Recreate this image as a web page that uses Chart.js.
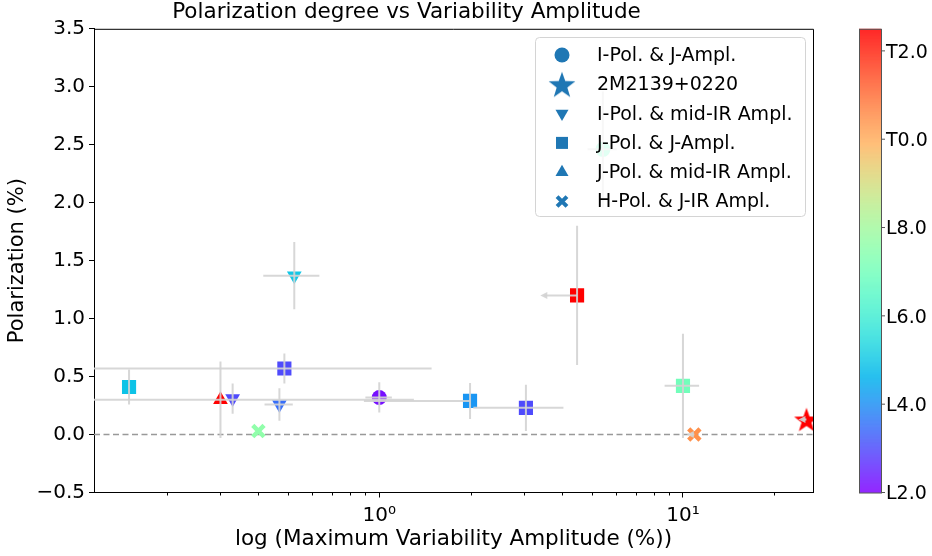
<!DOCTYPE html>
<html>
<head>
<meta charset="utf-8">
<script src="https://cdn.jsdelivr.net/npm/chart.js@4.4.0/dist/chart.umd.min.js"></script>
<style>
  body { margin: 0; background: #fff; }
  #wrap { width: 932px; height: 556px; }
</style>
</head>
<body>
<div id="wrap"><canvas id="graph-pol" width="932" height="556"></canvas></div>
<script>
// Groupes (un par symbole)
const groupLabels = ['I-Pol. & J-Ampl.', '2M2139+0220', 'I-Pol. & mid-IR Ampl.', 'J-Pol. & J-Ampl.', 'J-Pol. & mid-IR Ampl.', 'H-Pol. & J-IR Ampl.'];

// Un objet par colonne
const groupOf      = [0,    0,    1,    2,     2,     2,     3,     3,     3,     3,     3,     3,     4,    5,    5];
const amplitude    = [1.0,  5.45, 25.5, 0.525, 0.469, 0.329, 0.150, 0.487, 1.99,  3.04,  4.48,  10.0,  0.30, 0.40, 10.9];
const polarization = [0.32, 2.46, 0.13, 1.37,  0.26,  0.31,  0.41,  0.57,  0.29,  0.23,  1.20,  0.42,  0.30, 0.03, 0.00];
const spType       = [12.2, 16.8, 22.5, 15.0,  13.5,  13.0,  14.9,  13.0,  14.1,  13.0,  22.5,  17.0,  22.5, 17.6, 20.5];
const ampErrLow    = [0.1,  0.6,  0,    0.11,  0.05,  0,     0,     1.0,   1.1,   1.0,   0,     1.3,   1.0,  0,    0];
const ampErrHigh   = [0.1,  0.6,  0,    0.11,  0.05,  0,     0,     1.0,   0,     1.0,   0,     1.3,   1.0,  0,    0];
const polErr       = [0.13, 0.5,  0,    0.29,  0.14,  0.13,  0.15,  0.13,  0.155, 0.2,   0.6,   0.45,  0.33, 0,    0];
const ampUpperLim  = [null, null, 24.0, null,  null,  null,  null,  null,  null,  null,  3.39,  null,  null, null, 10.3];

// Barre de couleur (type spectral)
const sptMin = 12, sptMax = 22.5;
const cbTicks = [12, 14, 16, 18, 20, 22];
const cbTickLabels = ['L2.0', 'L4.0', 'L6.0', 'L8.0', 'T0.0', 'T2.0'];

// Axes
const xMin = 0.115, xMax = 26.8;
const xMajorTicks = [1, 10];
const xTickLabels = ['10\u2070', '10\u00b9'];
const xMinorTicks = [0.2, 0.3, 0.4, 0.5, 0.6, 0.7, 0.8, 0.9, 2, 3, 4, 5, 6, 7, 8, 9, 20];

Chart.defaults.font.family = 'DejaVu Sans';
Chart.defaults.color = '#000';

// colormap "rainbow" de matplotlib
function rainbow(v) {
  let t = (v - sptMin) / (sptMax - sptMin);
  t = Math.max(0, Math.min(1, t));
  const cl = a => Math.round(255 * Math.max(0, Math.min(1, a)));
  return `rgb(${cl(Math.abs(2 * t - 0.5))},${cl(Math.sin(Math.PI * t))},${cl(Math.cos(Math.PI * t / 2))})`;
}

function starCanvas(color, R) {
  const c = document.createElement('canvas');
  c.width = c.height = Math.ceil(2 * R + 2);
  const g = c.getContext('2d');
  const cx = c.width / 2, cy = c.height / 2, r = R * 0.4;
  g.beginPath();
  for (let k = 0; k < 10; k++) {
    const rr = k % 2 === 0 ? R : r;
    const a = -Math.PI / 2 + k * Math.PI / 5;
    g.lineTo(cx + rr * Math.cos(a), cy + rr * Math.sin(a) + R * 0.1);
  }
  g.closePath();
  g.fillStyle = color;
  g.fill();
  return c;
}

const legendBlue = '#1f77b4';
const groupStyles = [
  { pointStyle: 'circle', radius: 7.5, rotation: 0, borderWidth: 0 },
  { pointStyle: starCanvas(rainbow(22.5), 13), legendStyle: starCanvas(legendBlue, 14), radius: 13, rotation: 0, borderWidth: 0 },
  { pointStyle: 'triangle', radius: 8.5, rotation: 180, borderWidth: 0 },
  { pointStyle: 'rect', radius: 10, rotation: 0, borderWidth: 0 },
  { pointStyle: 'triangle', radius: 8.5, rotation: 0, borderWidth: 0 },
  { pointStyle: 'crossRot', radius: 8, rotation: 0, borderWidth: 4.5 }
];

const datasets = groupLabels.map((lab, g) => {
  const idx = groupOf.map((gg, i) => gg === g ? i : -1).filter(i => i >= 0);
  const st = groupStyles[g];
  const cols = idx.map(i => rainbow(spType[i]));
  return {
    label: lab,
    data: idx.map(i => ({ x: amplitude[i], y: polarization[i] })),
    pointStyle: st.pointStyle,
    pointRadius: st.radius,
    pointRotation: st.rotation,
    pointBackgroundColor: cols,
    pointBorderColor: cols,
    pointBorderWidth: st.borderWidth,
    showLine: false,
    clip: 0
  };
});

const errBarColor = 'rgba(211,211,211,0.9)';

const polPlugin = {
  id: 'polPlugin',
  beforeDatasetsDraw(chart) {
    const { ctx, chartArea: a, scales: { y } } = chart;
    const py = y.getPixelForValue(0);
    ctx.save();
    ctx.strokeStyle = '#999';
    ctx.lineWidth = 1.6;
    ctx.setLineDash([6, 3.5]);
    ctx.beginPath();
    ctx.moveTo(a.left, py);
    ctx.lineTo(a.right, py);
    ctx.stroke();
    ctx.restore();
  },
  afterDatasetsDraw(chart) {
    const { ctx, chartArea: a, scales: { x, y } } = chart;
    ctx.save();
    ctx.beginPath();
    ctx.rect(a.left, a.top, a.right - a.left, a.bottom - a.top);
    ctx.clip();
    ctx.strokeStyle = errBarColor;
    ctx.fillStyle = errBarColor;
    ctx.lineWidth = 2;
    for (let i = 0; i < amplitude.length; i++) {
      const px = x.getPixelForValue(amplitude[i]);
      const py = y.getPixelForValue(polarization[i]);
      if (polErr[i] > 0) {
        ctx.beginPath();
        ctx.moveTo(px, y.getPixelForValue(polarization[i] - polErr[i]));
        ctx.lineTo(px, y.getPixelForValue(polarization[i] + polErr[i]));
        ctx.stroke();
      }
      if (ampErrLow[i] > 0 || ampErrHigh[i] > 0) {
        const lo = amplitude[i] - ampErrLow[i];
        const x0 = lo > 0 ? x.getPixelForValue(lo) : a.left - 5;
        const x1 = x.getPixelForValue(amplitude[i] + ampErrHigh[i]);
        ctx.beginPath();
        ctx.moveTo(x0, py);
        ctx.lineTo(x1, py);
        ctx.stroke();
      }
      if (ampUpperLim[i] !== null) {
        const xl = x.getPixelForValue(ampUpperLim[i]);
        ctx.beginPath();
        ctx.moveTo(px, py);
        ctx.lineTo(xl + 4, py);
        ctx.stroke();
        ctx.beginPath();
        ctx.moveTo(xl, py);
        ctx.lineTo(xl + 7, py - 3.5);
        ctx.lineTo(xl + 7, py + 3.5);
        ctx.closePath();
        ctx.fill();
      }
    }
    ctx.restore();
  },
  afterDraw(chart) {
    const { ctx, chartArea: a, scales: { x } } = chart;
    ctx.save();

    // cadre haut et droit
    ctx.strokeStyle = '#000';
    ctx.lineWidth = 1;
    ctx.beginPath();
    ctx.moveTo(a.left, a.top + 0.5);
    ctx.lineTo(a.right + 0.5, a.top + 0.5);
    ctx.lineTo(a.right + 0.5, a.bottom);
    ctx.stroke();

    // graduations mineures de l'axe log
    ctx.beginPath();
    xMinorTicks.forEach(v => {
      const px = Math.round(x.getPixelForValue(v)) + 0.5;
      ctx.moveTo(px, a.bottom);
      ctx.lineTo(px, a.bottom + 3);
    });
    ctx.stroke();

    // légende
    const lx = 535, ly = 37, lw = 270, lh = 179;
    ctx.beginPath();
    ctx.roundRect(lx + 0.5, ly + 0.5, lw, lh, 4);
    ctx.fillStyle = 'rgba(255,255,255,0.8)';
    ctx.fill();
    ctx.strokeStyle = '#d4d4d4';
    ctx.lineWidth = 1;
    ctx.stroke();
    ctx.font = '19px "DejaVu Sans"';
    ctx.textBaseline = 'middle';
    ctx.textAlign = 'left';
    groupLabels.forEach((lab, g) => {
      const yy = ly + 18 + g * 29.3;
      const st = groupStyles[g];
      ctx.fillStyle = legendBlue;
      ctx.strokeStyle = legendBlue;
      ctx.lineWidth = 4;
      Chart.helpers.drawPoint(ctx, {
        pointStyle: st.legendStyle || st.pointStyle,
        rotation: st.rotation,
        radius: g === 5 ? 7 : (g === 3 ? 8.5 : 7.5),
        borderWidth: g === 5 ? 4 : 0
      }, 562, yy);
      ctx.fillStyle = '#000';
      ctx.fillText(lab, 597, yy + 1);
    });

    // barre de couleur
    const cbL = 859, cbR = 881, cbT = a.top, cbB = a.bottom;
    for (let py = cbT; py < cbB; py++) {
      const v = sptMin + (cbB - py - 0.5) / (cbB - cbT) * (sptMax - sptMin);
      ctx.fillStyle = rainbow(v);
      ctx.fillRect(cbL, py, cbR - cbL, 1);
    }
    ctx.strokeStyle = '#555';
    ctx.lineWidth = 1;
    ctx.strokeRect(cbL + 0.5, cbT + 0.5, cbR - cbL, cbB - cbT);
    ctx.font = '19px "DejaVu Sans"';
    ctx.fillStyle = '#000';
    cbTicks.forEach((v, k) => {
      const py = cbB - (v - sptMin) / (sptMax - sptMin) * (cbB - cbT);
      ctx.beginPath();
      ctx.moveTo(cbR, py);
      ctx.lineTo(cbR + 4, py);
      ctx.stroke();
      ctx.fillText(cbTickLabels[k], cbR + 5, py + 2);
    });
    ctx.restore();
  }
};

new Chart(document.getElementById('graph-pol').getContext('2d'), {
  type: 'scatter',
  data: { datasets: datasets },
  options: {
    responsive: false,
    animation: false,
    events: [],
    layout: { padding: { left: 0, right: 119, top: 0, bottom: 0 } },
    plugins: {
      legend: { display: false },
      tooltip: { enabled: false },
      title: {
        display: true,
        text: 'Polarization degree vs Variability Amplitude',
        font: { size: 21.5, weight: 'normal' },
        color: '#000',
        padding: { top: 0, bottom: 3 }
      }
    },
    scales: {
      x: {
        type: 'logarithmic',
        min: xMin,
        max: xMax,
        afterBuildTicks: scale => { scale.ticks = xMajorTicks.map(v => ({ value: v })); },
        afterFit: scale => { scale.height = 63.5; },
        ticks: {
          font: { size: 20 },
          color: '#000',
          maxRotation: 0,
          padding: 6,
          callback: (v, i) => xTickLabels[i]
        },
        grid: { drawOnChartArea: false, drawTicks: true, tickLength: 5, color: '#000' },
        border: { color: '#000', width: 1 },
        title: {
          display: true,
          text: 'log (Maximum Variability Amplitude (%))',
          font: { size: 21.5 },
          color: '#000',
          padding: { top: 0, bottom: 4 }
        }
      },
      y: {
        min: -0.5,
        max: 3.5,
        afterFit: scale => { scale.width = 94; },
        ticks: {
          stepSize: 0.5,
          font: { size: 20 },
          color: '#000',
          padding: 4,
          callback: v => (v < 0 ? '\u2212' : '') + Math.abs(v).toFixed(1)
        },
        grid: { drawOnChartArea: false, drawTicks: true, tickLength: 5, color: '#000' },
        border: { color: '#000', width: 1 },
        title: {
          display: true,
          text: 'Polarization (%)',
          font: { size: 21 },
          color: '#000',
          padding: { top: 5, bottom: 0 }
        }
      }
    }
  },
  plugins: [polPlugin]
});
</script>
</body>
</html>
